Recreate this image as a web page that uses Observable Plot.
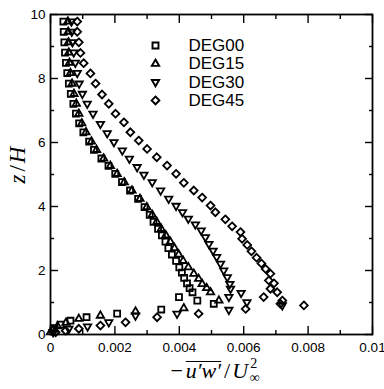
<!DOCTYPE html>
<html><head><meta charset="utf-8">
<script src="https://cdn.jsdelivr.net/npm/d3@7"></script>
<script src="https://cdn.jsdelivr.net/npm/@observablehq/plot@0.6"></script>
<style>body{margin:0;background:#fff}</style>
</head><body><div id="chart"></div>
<script>
const seriesNames = ["DEG00", "DEG15", "DEG30", "DEG45"];

const deg00_z = [0.2,0.31,0.43,0.54,0.65,0.78,0.96,1.06,1.17,1.32,1.45,1.6,1.77,1.93,2.1,2.3,2.5,2.7,2.9,3.1,3.3,3.52,3.74,3.98,4.24,4.5,4.76,5.02,5.27,5.5,5.77,6.03,6.32,6.6,6.9,7.21,7.52,7.84,8.17,8.49,8.81,9.13,9.46,9.78];
const deg00_x = [0.0001,0.00031,0.00062,0.00112,0.00207,0.00344,0.00507,0.00456,0.00399,0.00441,0.00432,0.00424,0.00415,0.00408,0.004,0.0039,0.00377,0.00366,0.00357,0.00346,0.00334,0.0032,0.00308,0.00292,0.00272,0.00247,0.00222,0.00201,0.0018,0.00158,0.00135,0.0012,0.00102,0.00089,0.00079,0.00071,0.00063,0.00057,0.00052,0.00048,0.00045,0.00043,0.00041,0.0004];

const deg15_z = [0.07,0.15,0.26,0.37,0.49,0.59,0.72,0.82,1.06,1.32,1.45,1.58,1.74,1.9,2.1,2.3,2.5,2.7,2.9,3.1,3.3,3.52,3.74,3.98,4.24,4.5,4.76,5.02,5.27,5.5,5.77,6.03,6.32,6.6,6.9,7.21,7.52,7.84,8.17,8.49,8.81,9.13,9.46,9.78];
const deg15_x = [0.0,0.00008,0.00022,0.00048,0.00088,0.00155,0.00264,0.00414,0.00523,0.00497,0.00485,0.00471,0.0046,0.00445,0.00428,0.00412,0.00398,0.00385,0.00372,0.00358,0.00344,0.0033,0.00316,0.00299,0.00278,0.00253,0.00229,0.00207,0.00186,0.00165,0.00143,0.00127,0.0011,0.00097,0.00088,0.0008,0.00073,0.00067,0.00062,0.00059,0.00057,0.00056,0.00055,0.00054];

const deg30_z = [0.07,0.18,0.25,0.38,0.59,0.65,0.77,0.91,1.01,1.17,1.3,1.43,1.58,1.79,2.0,2.21,2.42,2.62,2.83,3.04,3.25,3.44,3.62,3.82,4.02,4.24,4.5,4.76,4.99,5.23,5.49,5.75,6.01,6.29,6.58,6.9,7.21,7.52,7.84,8.17,8.49,8.81,9.13,9.46,9.78];
const deg30_x = [0.00008,0.00057,0.00115,0.00181,0.00264,0.00393,0.00554,0.0072,0.0061,0.00554,0.00592,0.00559,0.00557,0.00549,0.00538,0.00528,0.00516,0.00505,0.00492,0.00481,0.00468,0.0045,0.00428,0.0041,0.0039,0.00367,0.00342,0.00316,0.0029,0.00269,0.00245,0.00223,0.00197,0.00176,0.00155,0.00132,0.00114,0.00099,0.00089,0.00083,0.00077,0.00072,0.00068,0.00066,0.00065];

const deg45_z = [0.07,0.12,0.18,0.28,0.38,0.54,0.65,0.8,0.91,0.96,1.06,1.17,1.32,1.43,1.6,1.69,1.9,2.05,2.22,2.4,2.6,2.8,2.99,3.2,3.38,3.6,3.82,4.03,4.28,4.5,4.74,5.02,5.28,5.54,5.8,6.06,6.32,6.63,6.9,7.21,7.5,7.84,8.16,8.48,8.8,9.13,9.46,9.78];
const deg45_x = [0.00016,0.00047,0.00088,0.00155,0.00233,0.00331,0.0046,0.00606,0.00787,0.00714,0.0072,0.00662,0.00704,0.00683,0.00694,0.00678,0.00683,0.00668,0.00655,0.0064,0.00624,0.00611,0.00595,0.0059,0.00564,0.00543,0.00512,0.00497,0.00471,0.00445,0.00414,0.0039,0.00362,0.0033,0.003,0.00274,0.00248,0.00228,0.00202,0.00181,0.0016,0.0014,0.00124,0.00103,0.00093,0.00088,0.00083,0.00083];

const xTicks = [0, 0.002, 0.004, 0.006, 0.008, 0.01];
const xTickLabels = ["0", "0.002", "0.004", "0.006", "0.008", "0.01"];
const xMinor = [0.001, 0.003, 0.005, 0.007, 0.009];
const yTicks = [0, 2, 4, 6, 8, 10];
const yTickLabels = ["0", "2", "4", "6", "8", "10"];
const yMinor = [1, 3, 5, 7, 9];

const rows = (xs, zs) => xs.map((x, i) => ({x, z: zs[i]}));

const downTriangle = {
  draw(ctx, size) {
    const s = Math.sqrt(size) * 0.6824, t = s / 2, u = s * Math.sqrt(3) / 2;
    ctx.moveTo(0, s); ctx.lineTo(u, -t); ctx.lineTo(-u, -t); ctx.closePath();
  }
};

const styles = [
  {symbol: "square2", r: 3.8},
  {symbol: "triangle2", r: 3.5},
  {symbol: downTriangle, r: 3.5},
  {symbol: "diamond2", r: 3.5}
];
const data = [rows(deg00_x, deg00_z), rows(deg15_x, deg15_z), rows(deg30_x, deg30_z), rows(deg45_x, deg45_z)];

const marks = [];
data.forEach((d, i) => {
  marks.push(Plot.dot(d, {x: "x", y: "z", symbol: styles[i].symbol, r: styles[i].r, stroke: "black", strokeWidth: 1.8, fill: "none"}));
});
seriesNames.forEach((name, i) => {
  marks.push(Plot.dot([name], {frameAnchor: "top-left", dx: 105, dy: 31 + i * 18.3, symbol: styles[i].symbol, r: styles[i].r, stroke: "black", strokeWidth: 1.9, fill: "none"}));
  marks.push(Plot.text([name], {frameAnchor: "top-left", dx: 138, dy: 31 + i * 18.3, text: d => d, textAnchor: "start", lineAnchor: "middle", fontSize: 17, fill: "black"}));
});

const plot = Plot.plot({
  width: 384, height: 389,
  marginLeft: 50, marginRight: 12, marginTop: 14, marginBottom: 55,
  style: {fontFamily: "'Liberation Sans', Arial, sans-serif", fontSize: "13.5px", background: "white", color: "black"},
  x: {domain: [0, 0.01]},
  y: {domain: [0, 10]},
  marks: [
    Plot.axisX(xTicks, {anchor: "bottom", tickSize: 0, tickPadding: 8, tickFormat: d => xTickLabels[xTicks.indexOf(d)], label: null, fontSize: 13.5}),
    Plot.axisY(yTicks, {anchor: "left", tickSize: 0, tickPadding: 5, tickFormat: d => yTickLabels[yTicks.indexOf(d)], label: null, fontSize: 13.5}),
    Plot.axisX(xTicks, {anchor: "bottom", tickSize: -8, tickFormat: () => "", label: null, strokeWidth: 1.4}),
    Plot.axisX(xTicks, {anchor: "top", tickSize: -8, tickFormat: () => "", label: null, strokeWidth: 1.4}),
    Plot.axisX(xMinor, {anchor: "bottom", tickSize: -4, tickFormat: () => "", label: null, strokeWidth: 1.4}),
    Plot.axisX(xMinor, {anchor: "top", tickSize: -4, tickFormat: () => "", label: null, strokeWidth: 1.4}),
    Plot.axisY(yTicks, {anchor: "left", tickSize: -8, tickFormat: () => "", label: null, strokeWidth: 1.4}),
    Plot.axisY(yTicks, {anchor: "right", tickSize: -8, tickFormat: () => "", label: null, strokeWidth: 1.4}),
    Plot.axisY(yMinor, {anchor: "left", tickSize: -4, tickFormat: () => "", label: null, strokeWidth: 1.4}),
    Plot.axisY(yMinor, {anchor: "right", tickSize: -4, tickFormat: () => "", label: null, strokeWidth: 1.4}),
    Plot.frame({stroke: "black", strokeWidth: 1.8}),
    ...marks
  ]
});

document.getElementById("chart").appendChild(plot);

const svg = d3.select(plot);
const serif = "'Liberation Serif', 'DejaVu Serif', serif";
const xt = svg.append("text").attr("x", 215).attr("y", 378).attr("text-anchor", "middle")
  .attr("font-family", serif).attr("font-size", 22).attr("fill", "black");
xt.append("tspan").text("\u2212");
xt.append("tspan").attr("font-style", "italic").attr("dx", 3).text("u\u2032w\u2032");
xt.append("tspan").attr("dx", 3).text("/");
xt.append("tspan").attr("font-style", "italic").attr("dx", 2).text("U");
xt.append("tspan").attr("font-size", 14).attr("dy", -10).attr("dx", 2).text("2");
xt.append("tspan").attr("font-size", 14).attr("dx", -7.5).attr("dy", 14).text("\u221e");

const tn = xt.node();
const ox0 = tn.getStartPositionOfChar(1).x;
const ox1 = tn.getEndPositionOfChar(4).x;
svg.append("line").attr("x1", ox0).attr("x2", ox1).attr("y1", 361.5).attr("y2", 361.5)
  .attr("stroke", "black").attr("stroke-width", 1.1);

const yt = svg.append("text").attr("transform", "translate(25,165) rotate(-90)").attr("text-anchor", "middle")
  .attr("font-family", serif).attr("font-size", 23).attr("fill", "black");
yt.append("tspan").attr("font-style", "italic").text("z");
yt.append("tspan").attr("dx", 3).text("/");
yt.append("tspan").attr("font-style", "italic").attr("dx", 2).text("H");
</script>
</body></html>
